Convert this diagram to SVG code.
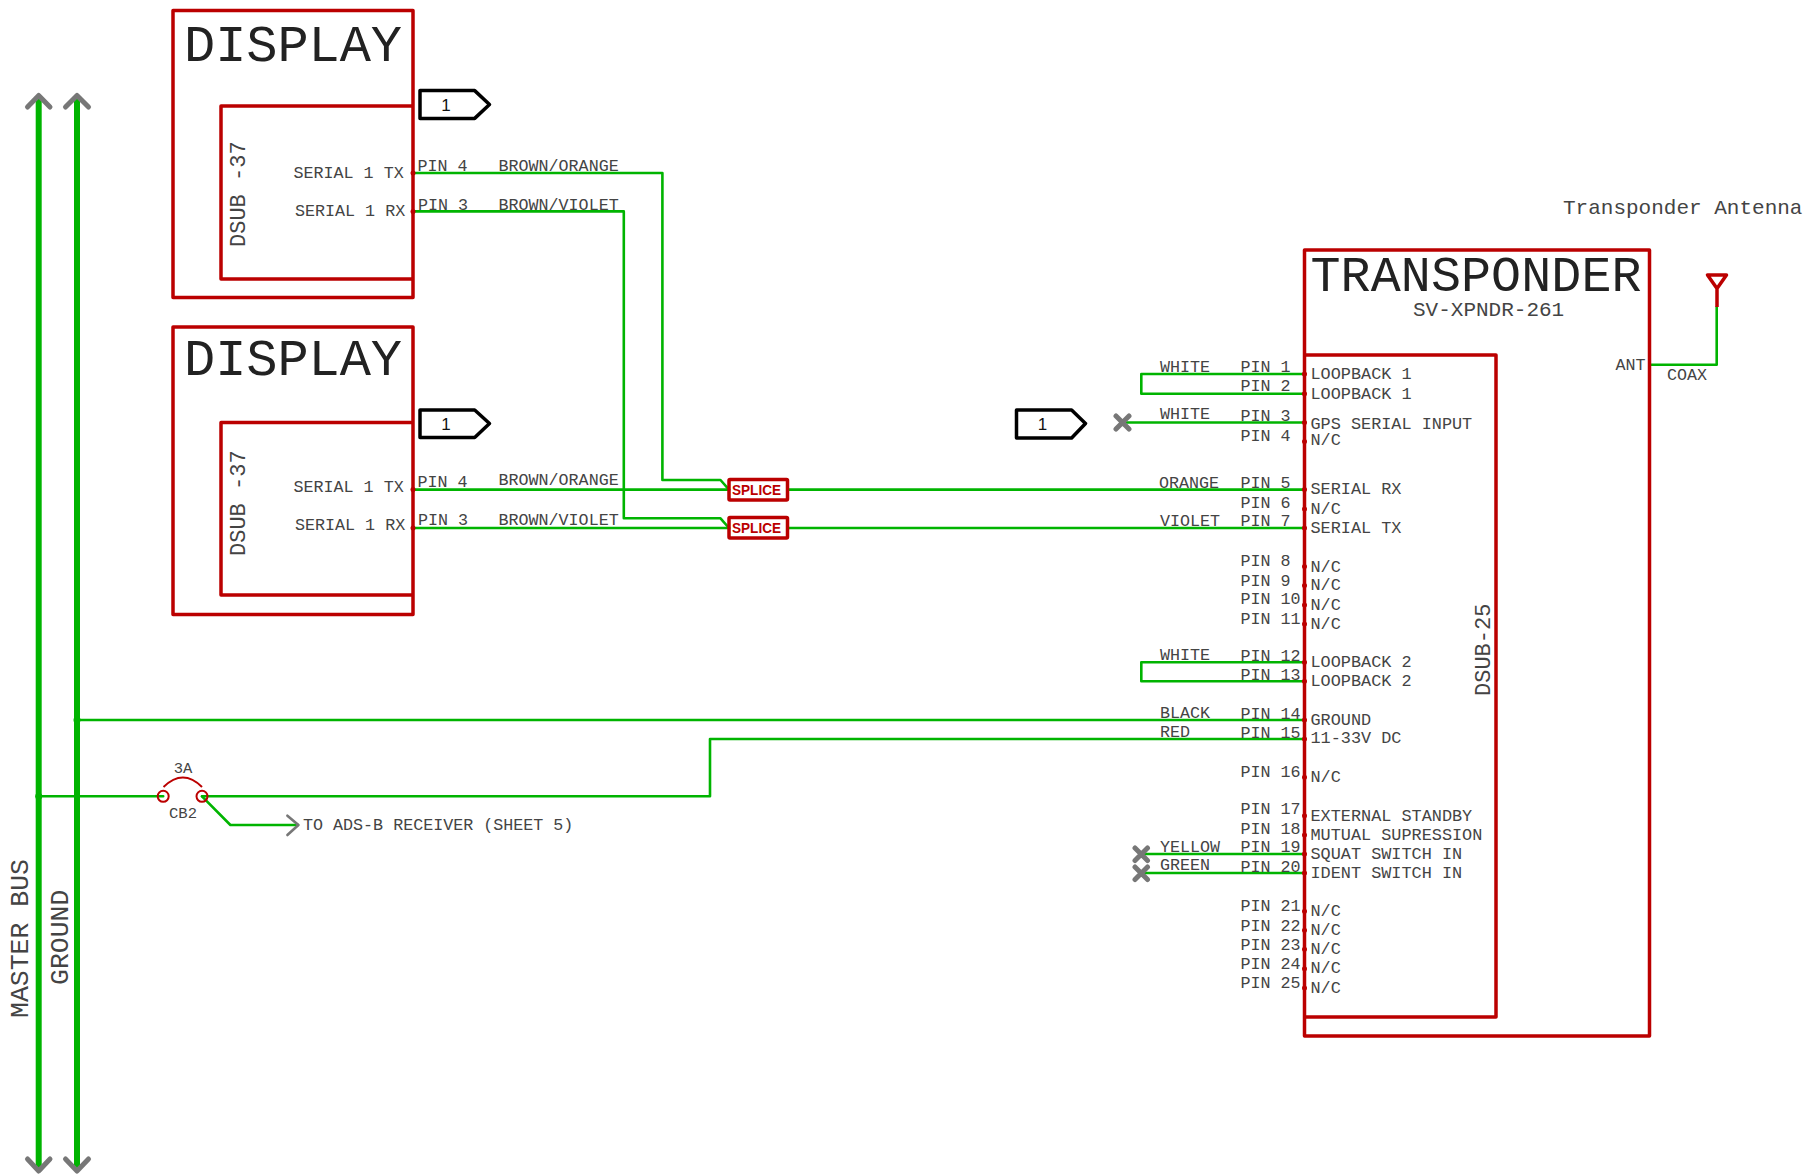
<svg xmlns="http://www.w3.org/2000/svg" width="1808" height="1175" viewBox="0 0 1808 1175">
<style>
text{font-family:"Liberation Mono","Courier New",monospace;fill:#444;font-size:16.7px;white-space:pre}
.t{font-size:52px;fill:#222}
.m{font-size:21px}
.dsub{font-size:22px}
.b{font-size:26.5px}
.box{fill:none;stroke:#bb0000;stroke-width:3.5;stroke-linejoin:round}
.w{fill:none;stroke:#00b400;stroke-width:2.6;stroke-linejoin:round;stroke-linecap:round}
.bus{fill:none;stroke:#00b400;stroke-width:6}
.g{fill:none;stroke:#777;stroke-width:5;stroke-linecap:round;stroke-linejoin:round}
.tag{fill:#fff;stroke:#000;stroke-width:3.5;stroke-linejoin:round}
.n{font-family:"Liberation Sans",Arial,sans-serif;font-size:17px;fill:#111;text-anchor:middle}
.s{font-family:"Liberation Sans",Arial,sans-serif;font-size:14.5px;font-weight:bold;fill:#bb0000}
.p{fill:#bb0000}
.d{fill:#00b400}
#pin-names text{font-size:16.85px}
</style>
<g id="connectors">
<path class="bus" d="M38.7 97V1170"/>
<path class="bus" d="M77 97V1170"/>
<path class="g" d="M27.5 107L38.7 95.500L50 107M65.500 107L77 95.500L88.500 107"/>
<path class="g" d="M27.500 1159L38.700 1171L50 1159M65.500 1159L77 1171L88.500 1159"/>
<path class="w" d="M413 173H662.400V480H720.500L729 489.600"/>
<path class="w" d="M413 211.400H623.800V518.300H720.500L729 528"/>
<path class="w" d="M413 489.600H729M787.500 489.600H1304.500"/>
<path class="w" d="M413 528H729M787.500 528H1304.500"/>
<path class="w" d="M1304.500 374H1141.300V393.700H1304.500"/>
<path class="w" d="M1304.500 662.300H1141.300V681.300H1304.500"/>
<path class="w" d="M1122.500 422.500H1304.500"/>
<path class="w" d="M1141.300 854H1304.500M1141.300 873H1304.500"/>
<path class="w" d="M77 720H1304.500"/>
<path class="w" d="M38.700 796.300H163.200M202 796.300H710V739H1304.500"/>
<path class="w" d="M202 796.300L230.400 825H298"/>
<path class="w" d="M1650 364.700H1716.700V307"/>
<circle class="d" cx="38.700" cy="796.300" r="3.500"/>
<circle class="d" cx="77" cy="720" r="3.500"/>
<path class="g" style="stroke-width:2.600" d="M287.400 815.700L298.400 825L287.400 835"/>
<path class="g" d="M1116 416L1129 429M1129 416L1116 429M1135 848L1147.500 860.500M1147.500 848L1135 860.500M1135 867L1147.500 879.500M1147.500 867L1135 879.500"/>
</g>
<g id="display-1">
<path class="box" d="M173 10.400H413V297.500H173Z"/>
<path class="box" d="M413 106H221V279H413"/>
<text class="t" x="184" y="60.500" textLength="218">DISPLAY</text>
<text class="dsub" transform="translate(245 247) rotate(-90)">DSUB -37</text>
<text x="293.500" y="178">SERIAL 1 TX</text>
<text x="295" y="216">SERIAL 1 RX</text>
<text x="417.500" y="171">PIN 4</text>
<text x="418" y="210">PIN 3</text>
<text x="498.500" y="170.500">BROWN/ORANGE</text>
<text x="498.500" y="210">BROWN/VIOLET</text>
<circle class="p" cx="413" cy="173" r="2.500"/>
<circle class="p" cx="413" cy="211.400" r="2.500"/>
</g>
<g id="display-2">
<path class="box" d="M173 327H413V614.500H173Z"/>
<path class="box" d="M413 422.400H221V595H413"/>
<text class="t" x="184" y="374.800" textLength="218">DISPLAY</text>
<text class="dsub" transform="translate(245 556) rotate(-90)">DSUB -37</text>
<text x="293.500" y="492">SERIAL 1 TX</text>
<text x="295" y="530">SERIAL 1 RX</text>
<text x="417.500" y="486.500">PIN 4</text>
<text x="418" y="525">PIN 3</text>
<text x="498.500" y="484.500">BROWN/ORANGE</text>
<text x="498.500" y="525">BROWN/VIOLET</text>
<circle class="p" cx="413" cy="489.600" r="2.500"/>
<circle class="p" cx="413" cy="528" r="2.500"/>
</g>
<g id="tag-1"><path class="tag" d="M420 90.600H474.700L489.500 104.500L474.700 118.400H420Z"/><text class="n" x="446" y="111">1</text></g>
<g id="tag-2"><path class="tag" d="M420 410H474.700L489.500 423.500L474.700 437.500H420Z"/><text class="n" x="446" y="429.500">1</text></g>
<g id="tag-3"><path class="tag" d="M1016.500 410H1071.600L1085.500 423.500L1071.600 438H1016.500Z"/><text class="n" x="1042.500" y="429.500">1</text></g>
<g id="splice-1"><rect class="box" x="729" y="479.500" width="58.500" height="20.500" rx="1"/><text class="s" x="732" y="495" textLength="49" lengthAdjust="spacingAndGlyphs">SPLICE</text></g>
<g id="splice-2"><rect class="box" x="729" y="517.500" width="58.500" height="20.500" rx="1"/><text class="s" x="732" y="533" textLength="49" lengthAdjust="spacingAndGlyphs">SPLICE</text></g>
<g id="transponder">
<path class="box" d="M1304.500 250H1649.500V1036H1304.500Z"/>
<path class="box" d="M1304.500 355H1496V1017H1304.500"/>
<text class="t" style="font-size:50px" x="1310.500" y="290.500" textLength="331">TRANSPONDER</text>
<text class="m" x="1413" y="316">SV-XPNDR-261</text>
<text class="dsub" transform="translate(1490 696) rotate(-90)">DSUB-25</text>
<text x="1615.500" y="369.500">ANT</text>
<text x="1667" y="379.500">COAX</text>
<g id="pin-dots">
<circle class="p" cx="1304.500" cy="374" r="2.500"/><circle class="p" cx="1304.500" cy="393.700" r="2.500"/><circle class="p" cx="1304.500" cy="422.500" r="2.500"/><circle class="p" cx="1304.500" cy="441.500" r="2.500"/><circle class="p" cx="1304.500" cy="489.600" r="2.500"/><circle class="p" cx="1304.500" cy="509" r="2.500"/><circle class="p" cx="1304.500" cy="528" r="2.500"/><circle class="p" cx="1304.500" cy="566.500" r="2.500"/><circle class="p" cx="1304.500" cy="585.500" r="2.500"/><circle class="p" cx="1304.500" cy="605" r="2.500"/><circle class="p" cx="1304.500" cy="624" r="2.500"/><circle class="p" cx="1304.500" cy="662.300" r="2.500"/><circle class="p" cx="1304.500" cy="681.300" r="2.500"/><circle class="p" cx="1304.500" cy="720" r="2.500"/><circle class="p" cx="1304.500" cy="739" r="2.500"/><circle class="p" cx="1304.500" cy="777.300" r="2.500"/><circle class="p" cx="1304.500" cy="815.700" r="2.500"/><circle class="p" cx="1304.500" cy="835" r="2.500"/><circle class="p" cx="1304.500" cy="854" r="2.500"/><circle class="p" cx="1304.500" cy="873" r="2.500"/><circle class="p" cx="1304.500" cy="911.300" r="2.500"/><circle class="p" cx="1304.500" cy="930.300" r="2.500"/><circle class="p" cx="1304.500" cy="949.300" r="2.500"/><circle class="p" cx="1304.500" cy="968.700" r="2.500"/><circle class="p" cx="1304.500" cy="988" r="2.500"/>
</g>
<g id="pin-numbers">
<text x="1240.500" y="372">PIN 1</text><text x="1240.500" y="391">PIN 2</text><text x="1240.500" y="421">PIN 3</text><text x="1240.500" y="441">PIN 4</text><text x="1240.500" y="488">PIN 5</text><text x="1240.500" y="508">PIN 6</text><text x="1240.500" y="526">PIN 7</text><text x="1240.500" y="566">PIN 8</text><text x="1240.500" y="585.500">PIN 9</text><text x="1240.500" y="604">PIN 10</text><text x="1240.500" y="624">PIN 11</text><text x="1240.500" y="660.500">PIN 12</text><text x="1240.500" y="679.500">PIN 13</text><text x="1240.500" y="718.500">PIN 14</text><text x="1240.500" y="738">PIN 15</text><text x="1240.500" y="777">PIN 16</text><text x="1240.500" y="814">PIN 17</text><text x="1240.500" y="834">PIN 18</text><text x="1240.500" y="852">PIN 19</text><text x="1240.500" y="872">PIN 20</text><text x="1240.500" y="910.500">PIN 21</text><text x="1240.500" y="930.500">PIN 22</text><text x="1240.500" y="949.500">PIN 23</text><text x="1240.500" y="968.500">PIN 24</text><text x="1240.500" y="987.500">PIN 25</text>
</g>
<g id="pin-names">
<text x="1310.500" y="379">LOOPBACK 1</text><text x="1310.500" y="399">LOOPBACK 1</text><text x="1310.500" y="428.500">GPS SERIAL INPUT</text><text x="1310.500" y="445.300">N/C</text><text x="1310.500" y="494.300">SERIAL RX</text><text x="1310.500" y="514.300">N/C</text><text x="1310.500" y="533.300">SERIAL TX</text><text x="1310.500" y="571.700">N/C</text><text x="1310.500" y="590">N/C</text><text x="1310.500" y="610">N/C</text><text x="1310.500" y="629">N/C</text><text x="1310.500" y="667.300">LOOPBACK 2</text><text x="1310.500" y="686.300">LOOPBACK 2</text><text x="1310.500" y="725.300">GROUND</text><text x="1310.500" y="743.300">11-33V DC</text><text x="1310.500" y="782.300">N/C</text><text x="1310.500" y="820.700">EXTERNAL STANDBY</text><text x="1310.500" y="840">MUTUAL SUPRESSION</text><text x="1310.500" y="859.300">SQUAT SWITCH IN</text><text x="1310.500" y="878.300">IDENT SWITCH IN</text><text x="1310.500" y="916">N/C</text><text x="1310.500" y="935">N/C</text><text x="1310.500" y="954">N/C</text><text x="1310.500" y="973">N/C</text><text x="1310.500" y="993">N/C</text>
</g>
</g>
<g id="wire-labels">
<text x="1160" y="372">WHITE</text><text x="1160" y="419.300">WHITE</text><text x="1159" y="488">ORANGE</text><text x="1160" y="526">VIOLET</text><text x="1160" y="660.300">WHITE</text><text x="1160" y="718.300">BLACK</text><text x="1160" y="737.300">RED</text><text x="1160" y="852">YELLOW</text><text x="1160" y="870.300">GREEN</text>
</g>
<g id="antenna">
<path class="box" d="M1707.500 275H1726.500L1717 288.500ZM1717 288.500V307"/>
<text class="m" x="1563" y="214">Transponder Antenna</text>
</g>
<g id="cb2">
<circle cx="163.200" cy="796.300" r="5.500" fill="none" stroke="#bb0000" stroke-width="2"/>
<circle cx="202" cy="796.300" r="5.500" fill="none" stroke="#bb0000" stroke-width="2"/>
<path d="M163.500 787Q183 768 202 787" fill="none" stroke="#bb0000" stroke-width="2"/>
<text x="183" y="773" text-anchor="middle" style="font-size:15.500px">3A</text>
<text x="183" y="818.300" text-anchor="middle" style="font-size:15.500px">CB2</text>
</g>
<text x="303" y="830">TO ADS-B RECEIVER (SHEET 5)</text>
<g id="bus-labels">
<text class="b" transform="translate(27.700 1018) rotate(-90)">MASTER BUS</text>
<text class="b" transform="translate(68 985) rotate(-90)">GROUND</text>
</g>
</svg>
